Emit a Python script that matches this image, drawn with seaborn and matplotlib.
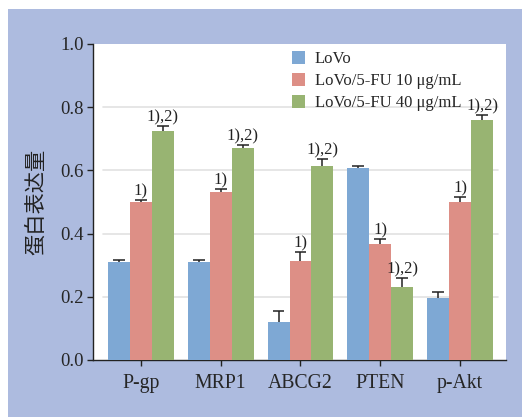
import matplotlib
matplotlib.use('Agg')
import matplotlib.pyplot as plt
import numpy as np
import pandas as pd
import seaborn as sns

## data
proteins = ['P-gp', 'MRP1', 'ABCG2', 'PTEN', 'p-Akt']
groups = ['LoVo', 'LoVo/5-FU 10 μg/mL', 'LoVo/5-FU 40 μg/mL']
lovo = [0.309, 0.309, 0.120, 0.607, 0.196]
fu10 = [0.500, 0.532, 0.313, 0.366, 0.500]
fu40 = [0.725, 0.671, 0.614, 0.231, 0.759]
err_lovo = [0.007, 0.007, 0.036, 0.008, 0.020]
err_fu10 = [0.006, 0.009, 0.028, 0.017, 0.017]
err_fu40 = [0.016, 0.010, 0.023, 0.027, 0.015]
note_lovo = ['', '', '', '', '']
note_fu10 = ['1)', '1)', '1)', '1)', '1)']
note_fu40 = ['1),2)', '1),2)', '1),2)', '1),2)', '1),2)']
yticks = [0.0, 0.2, 0.4, 0.6, 0.8, 1.0]

colors = ['#7ea8d4', '#dd8f86', '#98b472']

df = pd.DataFrame({
    'protein': proteins * 3,
    'group': [g for g in groups for _ in proteins],
    'value': lovo + fu10 + fu40,
})
errs = [err_lovo, err_fu10, err_fu40]
vals = [lovo, fu10, fu40]
notes = [note_lovo, note_fu10, note_fu40]

sns.set_style('ticks')
plt.rcParams['font.family'] = ['Liberation Serif', 'DejaVu Serif']

fig = plt.figure(figsize=(5.22, 4.17), dpi=100)
fig.patch.set_facecolor('white')
fig.patches.append(plt.Rectangle((8/522, 0), 1, (417-9)/417, transform=fig.transFigure,
                                 facecolor='#adbbdf', edgecolor='none', zorder=-10))

ax = fig.add_axes([93/522, 57/417, 413/522, 316/417])
ax.set_facecolor('white')

sns.barplot(data=df, x='protein', y='value', hue='group', palette=colors,
            width=0.825, saturation=1, errorbar=None, ax=ax, zorder=3,
            linewidth=0, edgecolor='none')

# upward-only error bars with a cap, then the significance marks
bar_conts = list(ax.containers)
for i, cont in enumerate(bar_conts):
    xs = np.array([b.get_x() + b.get_width() / 2 for b in cont])
    cw = cont[0].get_width() * 0.27
    tops = np.array(vals[i]) + np.array(errs[i])
    ax.vlines(xs, vals[i], tops, color='#222222', lw=1.1, zorder=4)
    ax.hlines(tops, xs - cw, xs + cw, color='#222222', lw=1.1, zorder=4)
    for x, top, t in zip(xs, tops, notes[i]):
        if t:
            ax.annotate(t, (x, top), xytext=(0, 0.5), textcoords='offset points',
                        ha='center', va='bottom', fontsize=12, color='#222222', zorder=5)

for yt in yticks[1:-1]:
    ax.axhline(yt, xmin=0.025, xmax=0.98, color='#e2e2e2', lw=1.2, zorder=1)

ax.set_xlim(-0.6, 4.575)
ax.set_ylim(0, 1.0)
ax.set_yticks(yticks)
ax.set_yticklabels([f'{t:.1f}' for t in yticks])
ax.tick_params(axis='y', labelsize=13.5, length=4.3, width=1, pad=2.5, color='#222222')
ax.tick_params(axis='x', labelsize=14.2, length=4, width=1, pad=6, color='#222222')
ax.set_xlabel('')
ax.set_ylabel('蛋白表达量', fontsize=15.3, family=['Noto Sans CJK SC', 'DejaVu Sans'], color='#222222')
ax.yaxis.set_label_coords(-0.111, 0.5)

sns.despine(ax=ax)
for s in ['left', 'bottom']:
    ax.spines[s].set_color('#222222')
    ax.spines[s].set_linewidth(1)

ax.legend(loc='upper left', bbox_to_anchor=(0.458, 1.01), frameon=False, fontsize=12,
          handlelength=0.75, handleheight=0.8, handletextpad=0.6, labelspacing=0.36,
          borderaxespad=0.2)

fig.savefig('out.png', dpi=100)
